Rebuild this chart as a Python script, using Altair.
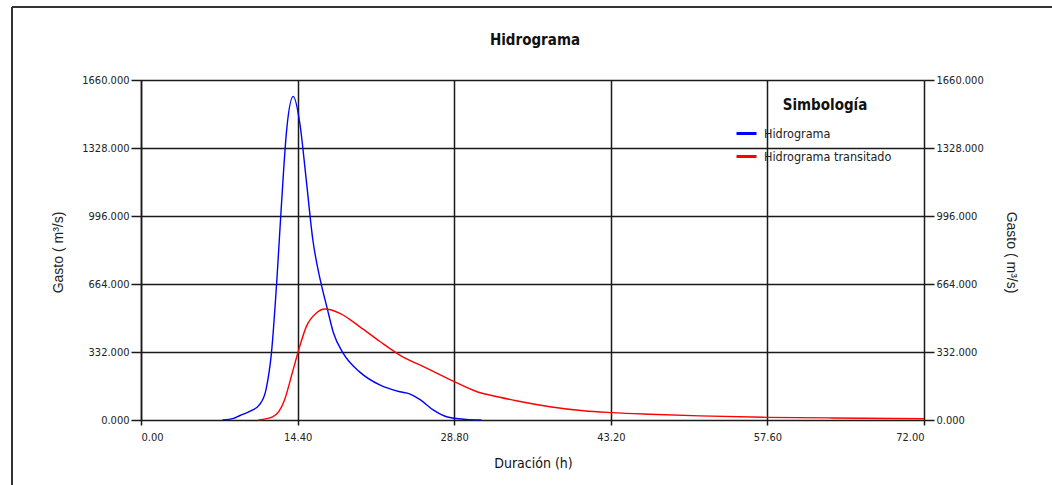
import altair as alt
import pandas as pd

# ---- data ----
blue_h = [7.5, 8.5, 9.1, 10.0, 10.9, 11.5, 12.0, 12.5, 12.9, 13.4, 14.0, 14.6, 15.2,
          15.8, 16.5, 17.1, 17.7, 18.6, 20.1, 22.0, 23.8, 24.7, 25.7, 26.9, 28.1, 29.9, 31.3]
blue_q = [0, 8, 22, 42, 75, 150, 330, 690, 1040, 1420, 1580, 1450, 1170,
          880, 680, 550, 425, 325, 235, 170, 138, 128, 98, 48, 16, 3, 0]

red_h = [10.8, 12.1, 13.2, 13.9, 14.5, 15.2, 16.1, 16.9, 18.3, 20.1, 22.0, 23.8, 26.3,
         28.5, 30.9, 33.0, 34.5, 37.6, 40.7, 43.3, 46.8, 51.4, 57.5, 63.6, 72.0]
red_q = [0, 15, 98, 228, 342, 456, 521, 542, 521, 456, 382, 317, 252,
         195, 138, 111, 94, 65, 45, 36, 28, 20, 13, 10, 6]

series_names = ["Hidrograma", "Hidrograma transitado"]
series_colors = ["#0000ff", "#ff0000"]

x_ticks = [0, 14.4, 28.8, 43.2, 57.6, 72.0]
y_ticks = [0, 332, 664, 996, 1328, 1660]

chart_title = "Hidrograma"
legend_title = "Simbología"

df = pd.concat([
    pd.DataFrame({"t": blue_h, "q": blue_q, "serie": series_names[0], "o": range(len(blue_h))}),
    pd.DataFrame({"t": red_h, "q": red_q, "serie": series_names[1], "o": range(len(red_h))}),
])

NARROW = "Liberation Sans Narrow, Arial Narrow, DejaVu Sans Condensed, sans-serif"
REG = "Liberation Sans, Arial, sans-serif"
GRID = "#1a1a1a"

x_enc = alt.X("t:Q", scale=alt.Scale(domain=[0, 72], nice=False, zero=False),
              axis=alt.Axis(values=x_ticks, format=".2f", title="Duración (h)",
                            grid=True, gridColor=GRID, gridWidth=1.5, gridOpacity=1,
                            domain=False, tickColor=GRID, tickWidth=1.5, tickSize=5,
                            labelFont=NARROW, labelFontSize=11, labelColor="#222",
                            labelPadding=6,
                            titleFont=NARROW, titleFontSize=14, titleFontWeight="normal",
                            titleColor="#111", titleX=392, titleY=43,
                            titleBaseline="middle", titleAlign="center"))

y_scale = alt.Scale(domain=[0, 1660], nice=False)

lines = alt.Chart(df).mark_line(strokeWidth=1.4, interpolate="monotone").encode(
    x=x_enc,
    y=alt.Y("q:Q", scale=y_scale,
            axis=alt.Axis(values=y_ticks, format=".3f", title="Gasto ( m³/s)", orient="left",
                          grid=True, gridColor=GRID, gridWidth=1.5, gridOpacity=1,
                          domain=True, domainColor=GRID, domainWidth=1.5,
                          tickColor=GRID, tickWidth=1.5, tickSize=10,
                          labelFont=NARROW, labelFontSize=11, labelColor="#222", labelPadding=2,
                          titleFont=REG, titleFontSize=14, titleFontWeight="normal",
                          titleColor="#222", titleX=-83, titleY=172,
                          titleBaseline="middle", titleAlign="center")),
    color=alt.Color("serie:N", scale=alt.Scale(domain=series_names, range=series_colors),
                    title=None,
                    legend=alt.Legend(orient="none", legendX=594, legendY=42,
                                      symbolType="stroke", symbolSize=400, symbolStrokeWidth=3,
                                      labelFont=NARROW, labelFontSize=12.5, labelColor="#222",
                                      labelOffset=6, rowPadding=5)),
    order="o:Q",
)

right = alt.Chart(df).mark_line(opacity=0).encode(
    x=alt.X("t:Q"),
    y=alt.Y("q:Q", scale=y_scale,
            axis=alt.Axis(values=y_ticks, format=".3f", title="Gasto ( m³/s)", orient="right",
                          grid=False, domain=False,
                          tickColor=GRID, tickWidth=1.5, tickSize=10,
                          labelFont=NARROW, labelFontSize=11, labelColor="#222", labelPadding=2,
                          titleFont=REG, titleFontSize=14, titleFontWeight="normal",
                          titleColor="#222", titleX=86, titleY=172, titleAngle=90,
                          titleBaseline="middle", titleAlign="center")),
    detail="serie:N",
)

one = pd.DataFrame({"a": [0]})
frame_left = alt.Chart(one).mark_rule(color="#333", strokeWidth=2).encode(
    x=alt.value(-129), y=alt.value(-73), y2=alt.value(410))
frame_top = alt.Chart(one).mark_rule(color="#333", strokeWidth=2).encode(
    x=alt.value(-129), x2=alt.value(915), y=alt.value(-73))

title_txt = alt.Chart(one).mark_text(font=NARROW, fontSize=15, fontWeight="bold", color="#111",
                                     align="center", baseline="middle").encode(
    x=alt.value(394), y=alt.value(-40), text=alt.value(chart_title))
leg_title = alt.Chart(one).mark_text(font=NARROW, fontSize=15, fontWeight="bold", color="#111",
                                     align="center", baseline="middle").encode(
    x=alt.value(684), y=alt.value(25), text=alt.value(legend_title))

chart = alt.layer(lines, right, frame_left, frame_top, title_txt, leg_title).resolve_axis(
    y="independent").properties(
    width=783, height=340,
    autosize=alt.AutoSizeParams(type="none"),
    padding={"left": 141, "top": 80, "right": 128, "bottom": 65},
).configure_view(strokeWidth=0).configure(background="white")

chart.save("out.html", embed_options={"renderer": "svg", "actions": False})
